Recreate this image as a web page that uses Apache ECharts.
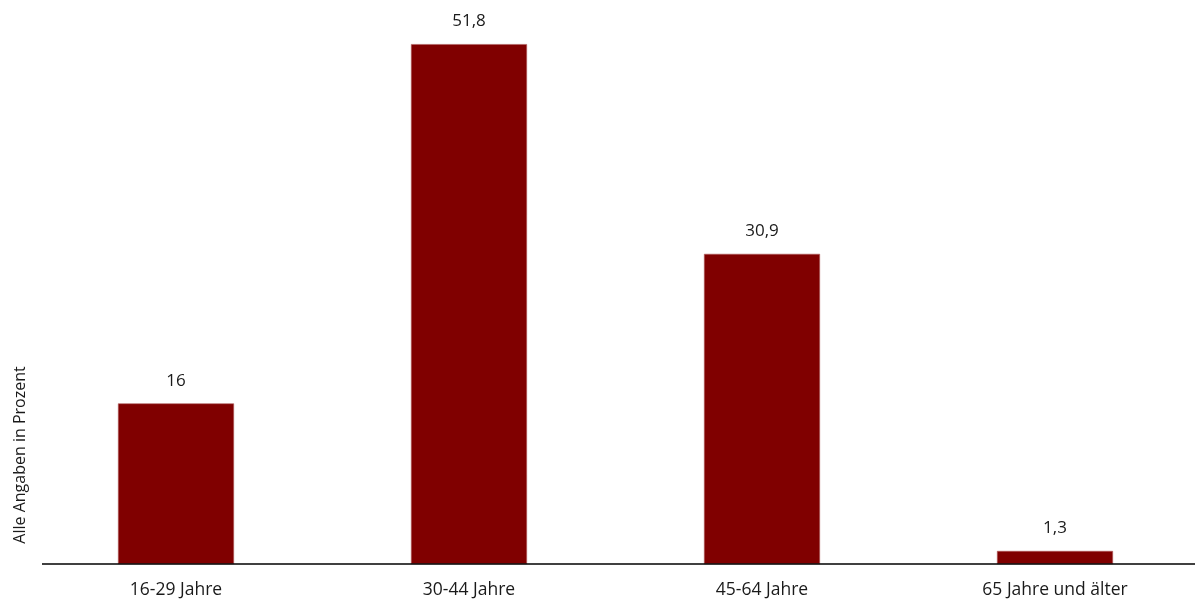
<!DOCTYPE html>
<html>
<head>
<meta charset="utf-8">
<script src="https://cdn.jsdelivr.net/npm/echarts@6/dist/echarts.min.js"></script>
<style>html,body{margin:0;padding:0;background:#fff;overflow:hidden;width:1195px;height:605px}#c{width:1210px;height:605px}</style>
</head>
<body>
<div id="c"></div>
<script>
const categories = ['16-29 Jahre', '30-44 Jahre', '45-64 Jahre', '65 Jahre und älter'];
const values = [16, 51.8, 30.9, 1.3];
const yAxisTitle = 'Alle Angaben in Prozent';

const chart = echarts.init(document.getElementById('c'), null, {renderer: 'canvas'});
const fontFamily = '"Open Sans", Lato, sans-serif';
chart.setOption({
  animation: false,
  grid: {left: 29.5, right: 8.5, top: 12, bottom: 41, containLabel: false},
  xAxis: {
    type: 'category',
    data: categories,
    axisLine: {show: false},
    axisTick: {show: false},
    axisLabel: {color: '#1a1a1a', fontSize: 17.5, fontFamily: fontFamily, margin: 17}
  },
  yAxis: {
    type: 'value', min: 0, max: 55,
    show: false
  },
  series: [{
    type: 'bar',
    data: values,
    barWidth: '39.6%',
    itemStyle: {color: '#800000', borderColor: '#b05a5a', borderWidth: 0.6},
    label: {
      show: true, position: 'top', distance: 14,
      color: '#1a1a1a', fontSize: 17, fontFamily: fontFamily,
      formatter: p => String(p.value).replace('.', ',')
    }
  }]
});
const baseY = chart.convertToPixel({yAxisIndex: 0}, 0);
chart.setOption({
  graphic: [
    {type: 'line', shape: {x1: 42, y1: baseY, x2: 1195, y2: baseY}, style: {stroke: '#000', lineWidth: 1.5}, z: 10},
    {type: 'text', x: 20, y: 455, rotation: Math.PI / 2,
     style: {text: yAxisTitle, fill: '#1a1a1a', font: '16px ' + fontFamily, align: 'center', verticalAlign: 'middle'}}
  ]
});
</script>
</body>
</html>
